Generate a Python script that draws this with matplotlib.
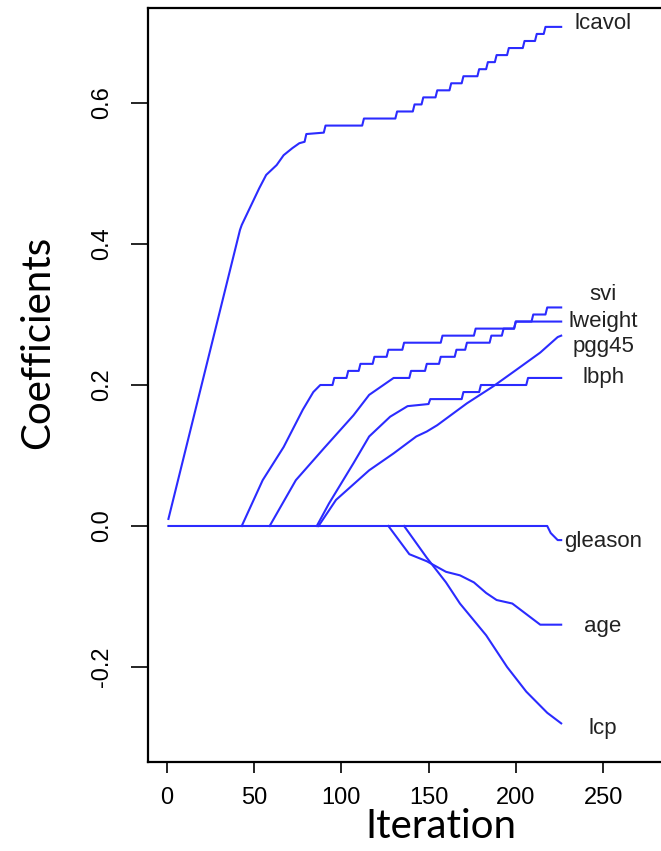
import matplotlib
matplotlib.use("Agg")
import matplotlib.pyplot as plt

# stagewise coefficient paths (iteration, value)
it_lcavol = [1, 39, 42, 43, 48, 53, 57, 63, 67, 72, 76, 79, 80, 90, 91, 112, 113, 131, 132, 141, 142,
             146, 147, 154, 155, 162, 163, 169, 170, 178, 179, 183, 184, 188, 189, 195, 196,
             204, 205, 211, 212, 216, 217, 226]
val_lcavol = [0.01, 0.39, 0.42, 0.427, 0.453, 0.479, 0.498, 0.512, 0.526, 0.536, 0.543, 0.545,
              0.556, 0.558, 0.568, 0.568, 0.578, 0.578, 0.588, 0.588, 0.598, 0.598, 0.608, 0.608,
              0.618, 0.618, 0.628, 0.628, 0.638, 0.638, 0.648, 0.648, 0.658, 0.658, 0.668, 0.668,
              0.678, 0.678, 0.688, 0.688, 0.698, 0.698, 0.708, 0.708]

it_svi = [43, 55, 67, 78, 84, 88, 95, 96, 103, 104, 110, 111, 118, 119, 126, 127, 135, 136, 157, 158,
          176, 177, 199, 200, 209, 210, 217, 218, 226]
val_svi = [0.0, 0.065, 0.112, 0.165, 0.19, 0.20, 0.20, 0.21, 0.21, 0.22, 0.22, 0.23, 0.23, 0.24,
           0.24, 0.25, 0.25, 0.26, 0.26, 0.27, 0.27, 0.28, 0.28, 0.29, 0.29, 0.30, 0.30, 0.31, 0.31]

it_lweight = [59, 74, 90, 107, 116, 130, 139, 140, 148, 149, 156, 157, 165, 166, 171, 172, 185, 186,
              192, 193, 199, 200, 226]
val_lweight = [0.0, 0.065, 0.11, 0.157, 0.186, 0.21, 0.21, 0.22, 0.22, 0.23, 0.23, 0.24, 0.24, 0.25,
               0.25, 0.26, 0.26, 0.27, 0.27, 0.28, 0.28, 0.29, 0.29]

it_pgg45 = [87, 97, 116, 130, 143, 149, 155, 172, 187, 200, 214, 224, 226]
val_pgg45 = [0.0, 0.037, 0.079, 0.103, 0.127, 0.134, 0.143, 0.174, 0.198, 0.221, 0.246, 0.268, 0.27]

it_lbph = [86, 93, 107, 116, 128, 138, 150, 151, 169, 170, 179, 180, 206, 207, 226]
val_lbph = [0.0, 0.032, 0.089, 0.127, 0.155, 0.17, 0.173, 0.18, 0.18, 0.19, 0.19, 0.20, 0.20,
            0.21, 0.21]

it_gleason = [1, 218, 220, 224, 226]
val_gleason = [0.0, 0.0, -0.01, -0.02, -0.02]

it_age = [127, 139, 149, 160, 168, 176, 183, 189, 198, 206, 214, 226]
val_age = [0.0, -0.04, -0.05, -0.065, -0.07, -0.08, -0.095, -0.105, -0.11, -0.125, -0.14, -0.14]

it_lcp = [136, 149, 160, 168, 183, 195, 206, 218, 226]
val_lcp = [0.0, -0.045, -0.08, -0.11, -0.155, -0.2, -0.235, -0.265, -0.28]

names = ["lcavol", "svi", "lweight", "pgg45", "lbph", "gleason", "age", "lcp"]
label_y = [0.713, 0.328, 0.29, 0.254, 0.21, -0.022, -0.143, -0.287]
label_x = 250

x_ticks = [0, 50, 100, 150, 200, 250]
y_ticks = [-0.2, 0.0, 0.2, 0.4, 0.6]
y_ticklabels = ["-0.2", "0.0", "0.2", "0.4", "0.6"]

paths = [(it_lcavol, val_lcavol), (it_svi, val_svi), (it_lweight, val_lweight),
         (it_pgg45, val_pgg45), (it_lbph, val_lbph), (it_gleason, val_gleason),
         (it_age, val_age), (it_lcp, val_lcp)]

fig = plt.figure(figsize=(6.61, 8.51), dpi=100)
# axes run past the right edge, as in the cropped reference
ax = fig.add_axes([148 / 661, 1 - 762 / 851, (734 - 148) / 661, 754 / 851])

for xs, ys in paths:
    ax.plot(xs, ys, color="#2b2bff", lw=1.5)

for name, yl in zip(names, label_y):
    ax.text(label_x, yl, name, ha="center", va="center", fontsize=16,
            family="Liberation Sans", color="#222222")

ax.set_xlim(-10.7, 325)
ax.set_ylim(-0.3348, 0.7348)

ax.set_xticks(x_ticks)
ax.set_xticklabels([str(t) for t in x_ticks], family="Liberation Sans", fontsize=17)
ax.set_yticks(y_ticks)
ax.set_yticklabels(y_ticklabels, family="Liberation Sans", fontsize=17,
                   rotation=90, va="center")
ax.tick_params(axis="x", length=8, width=1.2, pad=10)
ax.tick_params(axis="y", length=12, width=1.2, pad=13)

for s in ax.spines.values():
    s.set_linewidth(1.6)

ax.set_xlabel("Iteration", family="Lato", fontsize=29, va="center")
ax.xaxis.set_label_coords(0.5, -0.086)
ax.set_ylabel("Coefficients", family="Lato", fontsize=29, va="center")
ax.yaxis.set_label_coords(-0.189, 0.556)

fig.savefig("out.png", dpi=100)
